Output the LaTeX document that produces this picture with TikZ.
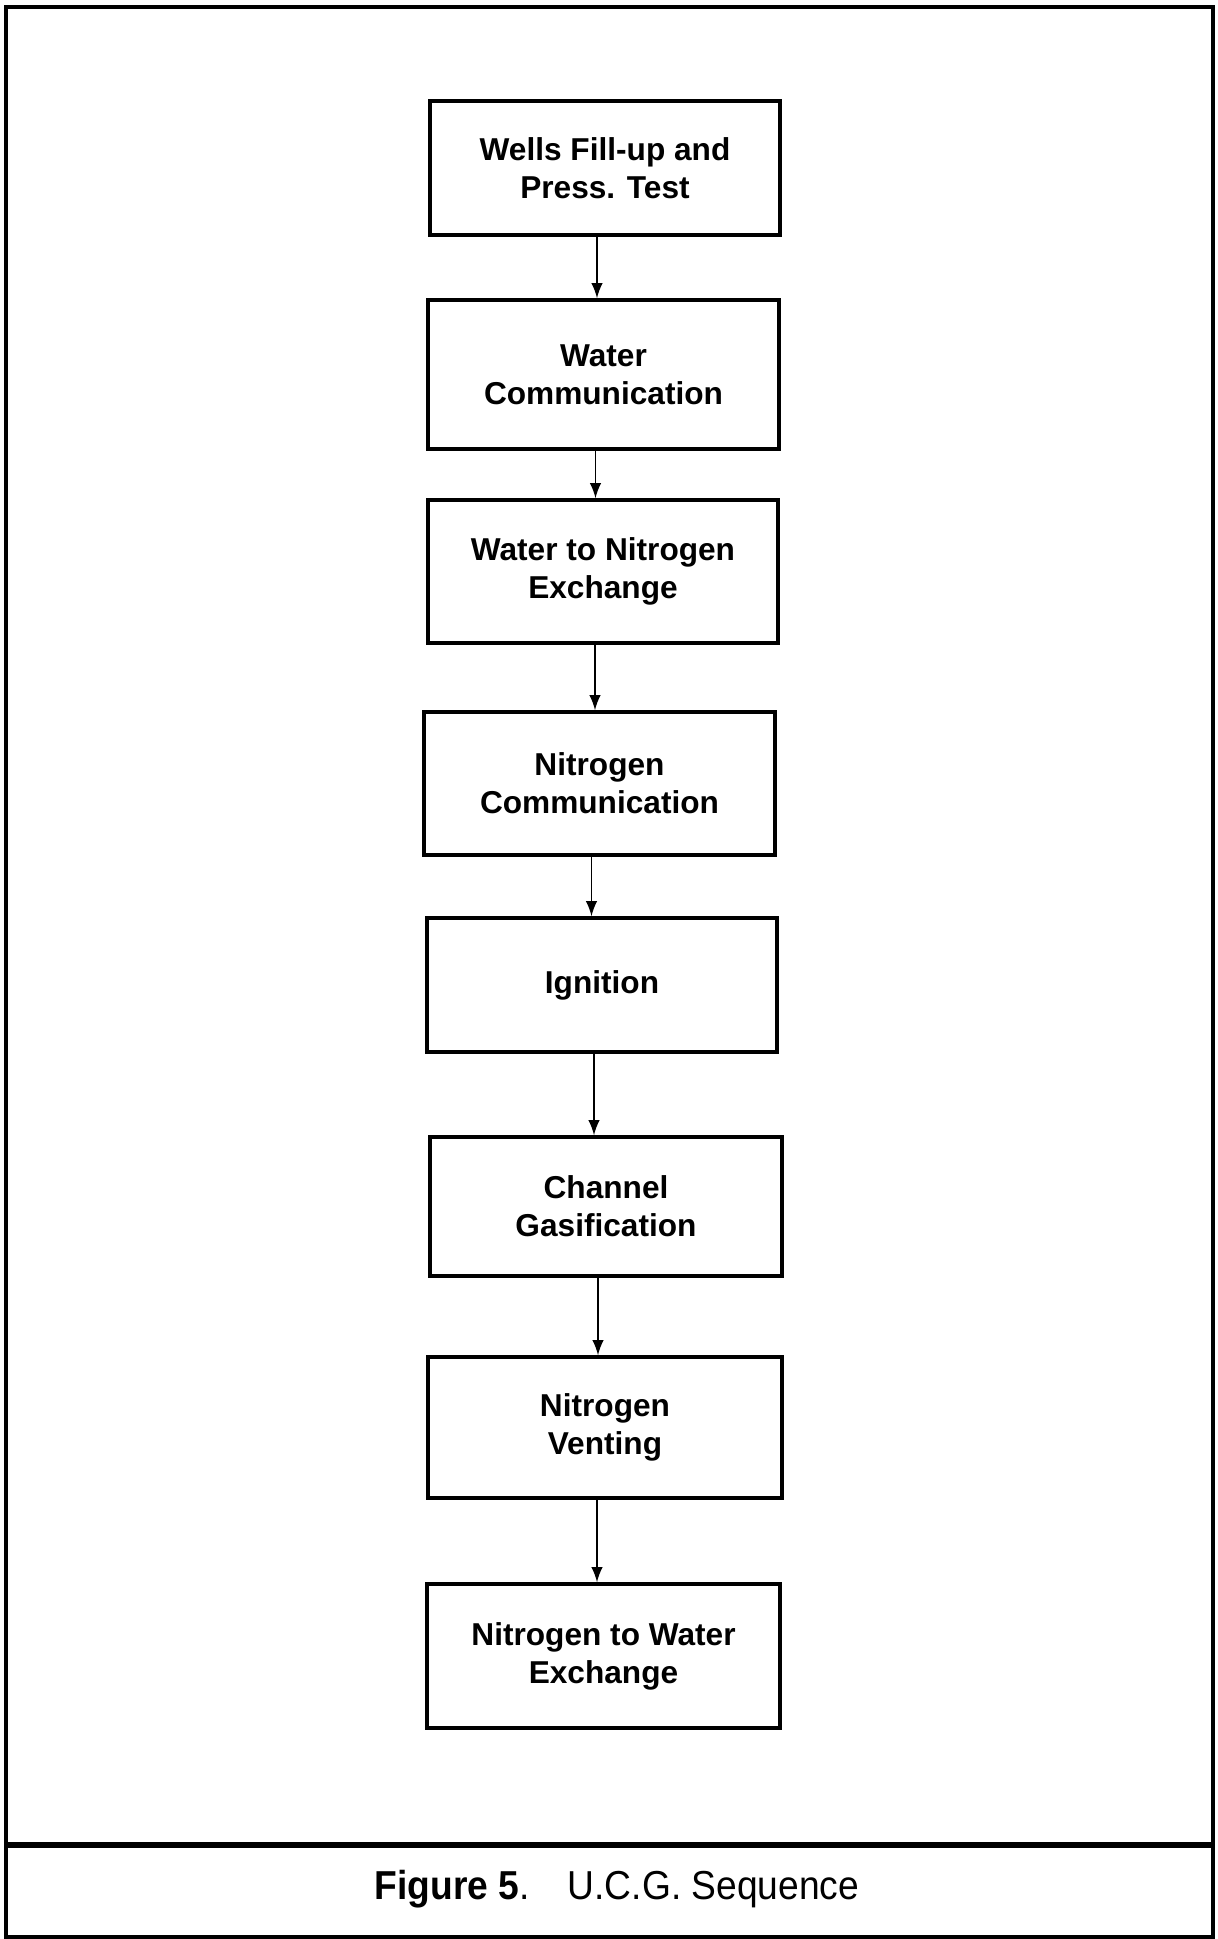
\documentclass[tikz,border=0pt]{standalone}
\usepackage{fontspec}
\setmainfont{Liberation Sans}
\newfontfamily\capfont[FakeStretch=0.92]{Liberation Sans}
\tikzset{
  stepbox/.style={draw, line width=1pt, align=center, inner sep=0pt,
    font=\fontsize{9}{10.8}\selectfont\bfseries},
}
\begin{document}
\begin{tikzpicture}
  \useasboundingbox (0,0) rectangle (12.17,-19.39);
  \draw[line width=1.2pt] (0.06,-0.07) rectangle (12.13,-19.37);
  \draw[line width=1.5pt] (0.06,-18.45) -- (12.13,-18.45);

  \node[stepbox, minimum width=3.50cm, minimum height=1.34cm] (wells)  at (6.050,-1.680)  {Wells Fill-up and\\Press. Test};
  \node[stepbox, minimum width=3.51cm, minimum height=1.49cm] (watcom) at (6.035,-3.745)  {Water\\Communication};
  \node[stepbox, minimum width=3.50cm, minimum height=1.43cm] (wtn)    at (6.030,-5.715)  {Water to Nitrogen\\Exchange};
  \node[stepbox, minimum width=3.51cm, minimum height=1.43cm] (nitcom) at (5.995,-7.835)  {Nitrogen\\Communication};
  \node[stepbox, minimum width=3.50cm, minimum height=1.34cm] (ign)    at (6.020,-9.850)  {Ignition};
  \node[stepbox, minimum width=3.52cm, minimum height=1.39cm] (chan)   at (6.060,-12.065) {Channel\\Gasification};
  \node[stepbox, minimum width=3.54cm, minimum height=1.41cm] (nitvent) at (6.050,-14.275) {Nitrogen\\Venting};
  \node[stepbox, minimum width=3.53cm, minimum height=1.44cm] (ntw)    at (6.035,-16.560) {Nitrogen to Water\\Exchange};

  \foreach \a/\b in {wells/watcom,watcom/wtn,wtn/nitcom,nitcom/ign,ign/chan,chan/nitvent,nitvent/ntw}
    \draw[-latex, line width=0.5pt] ([xshift=-0.08cm]\a.south) -- ([xshift=-0.08cm]\a.south |- \b.north);

  \node[font=\capfont\fontsize{11.5}{13}\selectfont] (cap) at (6.17,-18.89)
    {\textbf{Figure 5}.\hspace{0.38cm}U.C.G. Sequence};
\end{tikzpicture}
\end{document}
